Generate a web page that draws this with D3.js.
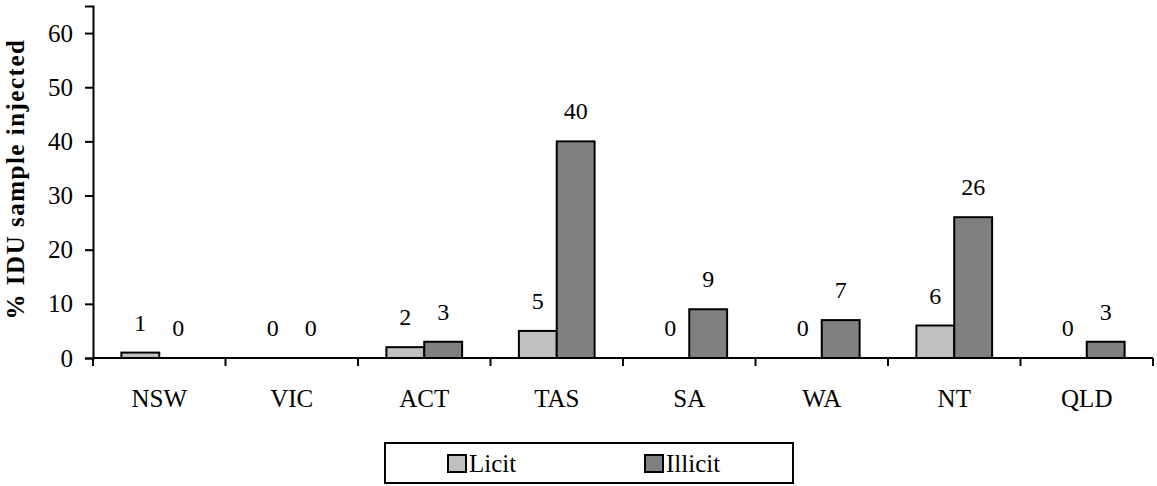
<!DOCTYPE html>
<html>
<head>
<meta charset="utf-8">
<script src="https://cdn.jsdelivr.net/npm/d3@7"></script>
</head>
<body style="margin:0;padding:0;background:#fff;font-family:'Liberation Serif'">
<svg id="chart" width="1157" height="486" font-family="Liberation Serif" style="display:block;font-family:'Liberation Serif'"></svg>
<script>
const categories = ["NSW", "VIC", "ACT", "TAS", "SA", "WA", "NT", "QLD"];
const seriesNames = ["Licit", "Illicit"];
const licit = [1, 0, 2, 5, 0, 0, 6, 0];
const illicit = [0, 0, 3, 40, 9, 7, 26, 3];
const yTicks = [0, 10, 20, 30, 40, 50, 60];
const yLabel = "% IDU sample injected";
const colors = { Licit: "#c0c0c0", Illicit: "#808080" };

const svg = d3.select("#chart");

function serif(sel, size) {
  return sel.attr("font-family", "Liberation Serif")
    .style("font-family", "'Liberation Serif'")
    .attr("font-size", size)
    .style("font-size", size + "px")
    .attr("fill", "#000");
}

const x0 = d3.scaleBand().domain(categories).range([93, 1153]).paddingInner(0).paddingOuter(0);
const bw = x0.bandwidth();
const barW = bw / 3.5;
const x1 = d3.scaleBand().domain(seriesNames).range([0.75 * barW, 2.75 * barW]).padding(0);
const y = d3.scaleLinear().domain([0, 65]).range([358, 6]);

const data = categories.map((c, i) => ({ cat: c, Licit: licit[i], Illicit: illicit[i] }));

// bars
const groups = svg.append("g").selectAll("g").data(data).join("g")
  .attr("transform", d => `translate(${x0(d.cat)},0)`);
groups.selectAll("rect").data(d => seriesNames.map(s => ({ s, v: d[s] })).filter(o => o.v > 0))
  .join("rect")
  .attr("x", d => x1(d.s))
  .attr("y", d => y(d.v))
  .attr("width", x1.bandwidth())
  .attr("height", d => y(0) - y(d.v))
  .attr("fill", d => colors[d.s])
  .attr("stroke", "#000")
  .attr("stroke-width", 2);

// value labels
groups.selectAll("text.val").data(d => seriesNames.map(s => ({ s, v: d[s] })))
  .join("text").attr("class", "val")
  .attr("x", d => x1(d.s) + x1.bandwidth() / 2)
  .attr("y", d => y(d.v) - 22)
  .attr("text-anchor", "middle")
  .text(d => d.v)
  .call(serif, 24);

// y axis
const yAxis = d3.axisLeft(y).tickValues(yTicks).tickSize(8).tickPadding(12).tickFormat(d3.format("d"));
const gy = svg.append("g").attr("transform", "translate(93,0)").call(yAxis);
gy.attr("font-family", "Liberation Serif").attr("font-size", 25);
gy.select(".domain").attr("stroke", "#000").attr("stroke-width", 2);
gy.selectAll(".tick line").attr("stroke", "#000").attr("stroke-width", 2);
gy.selectAll(".tick text").call(serif, 25);

// x axis
const xAxis = d3.axisBottom(x0).tickSize(0).tickPadding(31);
const gx = svg.append("g").attr("transform", `translate(0,${y(0)})`).call(xAxis);
gx.attr("font-family", "Liberation Serif").attr("font-size", 25);
gx.select(".domain").remove();
gx.selectAll(".tick text").call(serif, 25);
gx.append("line").attr("x1", 93).attr("x2", 1153).attr("y1", 0).attr("y2", 0)
  .attr("stroke", "#000").attr("stroke-width", 2);
const bounds = categories.map(c => x0(c)).concat([x0(categories[categories.length - 1]) + bw]);
gx.selectAll("line.sep").data(bounds).join("line").attr("class", "sep")
  .attr("x1", d => d).attr("x2", d => d).attr("y1", 0).attr("y2", 8)
  .attr("stroke", "#000").attr("stroke-width", 2);

// y label
svg.append("text")
  .attr("transform", "translate(24,179) rotate(-90)")
  .attr("text-anchor", "middle")
  .text(yLabel)
  .call(serif, 25)
  .attr("font-weight", "bold")
  .style("letter-spacing", "1.5px");

// legend
const lg = svg.append("g");
lg.append("rect").attr("x", 385).attr("y", 443).attr("width", 408).attr("height", 40)
  .attr("fill", "#fff").attr("stroke", "#000").attr("stroke-width", 2);
const legX = { Licit: 448, Illicit: 645 };
seriesNames.forEach(s => {
  lg.append("rect").attr("x", legX[s]).attr("y", 455).attr("width", 18).attr("height", 17)
    .attr("fill", colors[s]).attr("stroke", "#000").attr("stroke-width", 2);
  lg.append("text").attr("x", legX[s] + 21).attr("y", 472).text(s).call(serif, 25);
});
</script>
</body>
</html>
